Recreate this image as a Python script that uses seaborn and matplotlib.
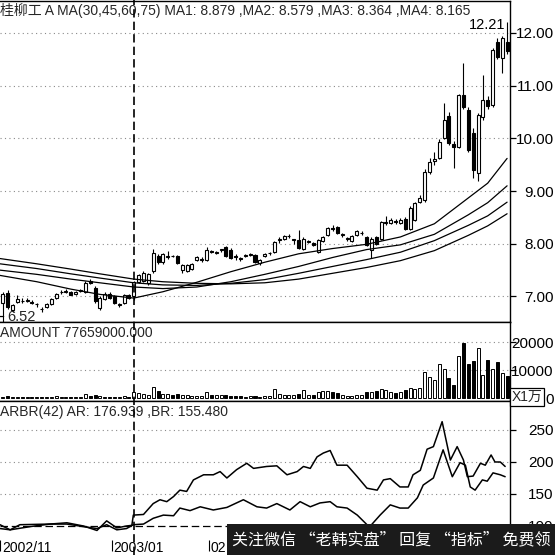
import numpy as np
import matplotlib
matplotlib.use("Agg")
import matplotlib.pyplot as plt
from matplotlib.lines import Line2D
from matplotlib.patches import Rectangle
import seaborn as sns

# ---------------- daily bars ----------------
open_ = [6.88, 7.06, 6.74, 6.90, 6.92, 6.92, 6.90, 6.85, 6.77, 6.80,
         6.86, 6.97, 7.08, 7.09, 7.08, 7.04, 7.11, 7.09, 7.30, 7.17,
         6.78, 6.96, 7.05, 7.00, 6.83, 6.88, 7.02, 7.00, 7.28, 7.30,
         7.25, 7.48, 7.76, 7.65, 7.74, 7.77, 7.77, 7.50, 7.48, 7.52,
         7.70, 7.70, 7.69, 7.86, 7.83, 7.88, 7.93, 7.88, 7.76, 7.72,
         7.76, 7.78, 7.79, 7.63, 7.77, 7.82, 7.84, 8.08, 8.10, 8.14,
         8.07, 8.07, 7.90, 8.04, 8.02, 7.85, 8.06, 8.17, 8.29, 8.32,
         8.17, 8.10, 8.05, 8.17, 8.20, 8.13, 7.88, 8.13, 8.10, 8.40,
         8.40, 8.43, 8.40, 8.47, 8.28, 8.45, 8.80, 8.83, 9.36, 9.58,
         9.63, 10.00, 10.43, 9.90, 9.84, 10.82, 10.54, 10.10, 9.34, 10.40,
         10.73, 10.64, 11.83, 11.53, 11.83]
high = [7.08, 7.12, 6.86, 7.02, 6.98, 6.97, 6.93, 6.88, 6.80, 6.87,
        6.98, 7.07, 7.12, 7.14, 7.10, 7.11, 7.15, 7.29, 7.33, 7.20,
        7.00, 7.08, 7.08, 7.03, 6.88, 7.05, 7.05, 7.30, 7.42, 7.48,
        7.44, 7.90, 7.80, 7.82, 7.86, 7.79, 7.78, 7.62, 7.62, 7.64,
        7.76, 7.74, 7.94, 7.88, 7.87, 7.90, 7.95, 7.92, 7.80, 7.75,
        7.80, 7.83, 7.80, 7.72, 7.83, 7.85, 8.06, 8.12, 8.16, 8.18,
        8.10, 8.26, 8.12, 8.08, 8.04, 8.09, 8.14, 8.32, 8.35, 8.34,
        8.20, 8.13, 8.17, 8.26, 8.24, 8.15, 8.12, 8.15, 8.44, 8.52,
        8.49, 8.47, 8.48, 8.50, 8.72, 8.80, 8.92, 9.42, 9.62, 9.75,
        9.98, 10.67, 10.50, 9.95, 10.85, 11.43, 10.60, 10.20, 10.48, 11.20,
        10.80, 11.72, 11.90, 11.95, 12.21]
low = [6.52, 6.76, 6.70, 6.88, 6.88, 6.89, 6.85, 6.80, 6.70, 6.78,
       6.84, 6.95, 7.05, 7.06, 7.02, 7.03, 7.08, 7.07, 7.24, 6.88,
       6.75, 6.93, 6.95, 6.86, 6.80, 6.86, 6.95, 6.93, 7.25, 7.28,
       7.22, 7.45, 7.62, 7.62, 7.72, 7.74, 7.62, 7.44, 7.46, 7.50,
       7.68, 7.66, 7.67, 7.82, 7.81, 7.85, 7.74, 7.72, 7.70, 7.68,
       7.74, 7.77, 7.64, 7.60, 7.75, 7.79, 7.82, 8.02, 8.08, 8.11,
       8.00, 7.90, 7.88, 8.01, 7.96, 7.83, 8.04, 8.15, 8.25, 8.18,
       8.13, 8.06, 8.03, 8.15, 8.16, 7.96, 7.73, 7.98, 8.08, 8.36,
       8.38, 8.38, 8.38, 8.26, 8.26, 8.43, 8.78, 8.80, 9.33, 9.50,
       9.60, 9.98, 9.88, 9.44, 9.82, 10.55, 9.75, 9.25, 9.20, 10.35,
       10.55, 10.60, 11.50, 11.25, 11.60]
close = [7.04, 6.80, 6.83, 6.95, 6.91, 6.92, 6.87, 6.86, 6.76, 6.85,
         6.96, 7.05, 7.09, 7.10, 7.03, 7.09, 7.12, 7.26, 7.26, 6.91,
         6.98, 7.05, 6.97, 6.88, 6.86, 7.03, 6.97, 7.27, 7.40, 7.45,
         7.42, 7.83, 7.65, 7.80, 7.76, 7.76, 7.64, 7.60, 7.60, 7.62,
         7.74, 7.71, 7.88, 7.85, 7.85, 7.88, 7.76, 7.73, 7.74, 7.71,
         7.79, 7.81, 7.65, 7.70, 7.81, 7.82, 8.03, 8.09, 8.14, 8.14,
         8.07, 7.92, 8.10, 8.04, 7.98, 8.07, 8.12, 8.30, 8.28, 8.20,
         8.17, 8.10, 8.15, 8.24, 8.20, 7.98, 8.10, 8.00, 8.41, 8.41,
         8.46, 8.42, 8.45, 8.28, 8.68, 8.77, 8.86, 9.36, 9.55, 9.60,
         9.93, 10.35, 9.91, 9.84, 10.82, 10.60, 9.78, 9.40, 10.44, 10.73,
         10.62, 11.68, 11.54, 11.90, 11.65]
# turnover, in units of 10,000 yuan
volume = [500, 600, 300, 250, 200, 250, 300, 250, 300, 350,
          400, 600, 350, 400, 350, 300, 400, 1300, 600, 900,
          700, 500, 400, 450, 350, 600, 500, 2000, 1700, 1500,
          1200, 3800, 2400, 1600, 1300, 1100, 1500, 1000, 900, 800,
          700, 600, 2000, 1200, 1000, 900, 1100, 800, 700, 600,
          500, 600, 700, 500, 600, 700, 3200, 1500, 1200, 1000,
          900, 1300, 2800, 1200, 1000, 2200, 2400, 2600, 2000, 1800,
          900, 700, 800, 1000, 900, 2200, 2000, 2600, 3200, 2800,
          2300, 1800, 2000, 2800, 3400, 3200, 3500, 9300, 7600, 6500,
          12300, 10300, 7000, 4800, 15000, 19600, 12000, 13200, 18000, 8200,
          13500, 10500, 13000, 9000, 7766]

# ---------------- moving averages (30/45/60/75 days) ----------------
ma_idx = [-0.6, 7, 14, 20, 27, 33, 40, 47, 54, 61, 68, 75, 82, 89, 96, 100, 104]
ma30 = [7.40, 7.28, 7.14, 7.04, 6.97, 7.09, 7.27, 7.47, 7.65, 7.81, 7.91, 7.99, 8.13, 8.38, 8.87, 9.15, 9.62]
ma45 = [7.50, 7.42, 7.33, 7.26, 7.18, 7.15, 7.18, 7.28, 7.42, 7.57, 7.74, 7.89, 7.98, 8.18, 8.55, 8.78, 9.10]
ma60 = [7.62, 7.53, 7.43, 7.35, 7.26, 7.22, 7.21, 7.25, 7.32, 7.44, 7.57, 7.70, 7.84, 8.06, 8.35, 8.53, 8.79]
ma75 = [7.72, 7.62, 7.52, 7.43, 7.33, 7.28, 7.25, 7.24, 7.26, 7.33, 7.44, 7.55, 7.68, 7.87, 8.16, 8.34, 8.57]

# ---------------- ARBR(42) ----------------
ar_idx = [-0.6, 1.5, 3.5, 9.7, 13.2, 16.6, 19.4, 21.4, 23.5, 25.5, 26.6, 26.9, 29.0, 31.0,
          32.4, 33.8, 35.2, 36.5, 37.9, 39.3, 41.4, 43.4, 44.8, 46.2, 48.2, 50.3, 51.7,
          54.4, 56.5, 58.6, 60.7, 62.0, 63.4, 64.8, 66.1, 67.5, 68.9, 71.0, 73.1, 75.1,
          77.2, 78.5, 79.9, 81.9, 83.6, 84.6, 86.1, 87.5, 88.8, 90.6, 92.3, 93.7, 95.0,
          95.8, 97.0, 98.5, 99.5, 100.7, 101.5, 102.6, 103.6]
ar_val = [102, 94, 102, 103, 105, 100, 93, 108, 97, 100, 101, 117, 118, 135,
          141, 138, 146, 156, 154, 172, 180, 180, 185, 175, 188, 198, 190,
          193, 194, 180, 185, 193, 190, 208, 214, 218, 195, 195, 177, 159,
          156, 172, 174, 161, 161, 180, 187, 220, 224, 263, 203, 224, 203,
          177, 178, 198, 195, 211, 200, 200, 193]
br_idx = [-0.6, 1.5, 5.6, 9.7, 13.2, 16.6, 19.4, 21.4, 23.5, 25.5, 26.9, 29.0, 31.0,
          33.1, 35.2, 36.5, 38.6, 40.7, 43.4, 46.2, 49.6, 52.4, 54.4, 56.5, 59.2,
          61.3, 63.4, 65.4, 67.5, 68.9, 71.0, 73.1, 75.1, 75.8, 77.8, 79.9, 81.9,
          83.6, 85.5, 86.7, 88.8, 90.8, 92.7, 94.3, 95.4, 96.4, 97.4, 98.9, 99.9,
          101.1, 102.6, 103.6]
br_val = [96, 94, 99, 103, 103, 99, 96, 102, 94, 96, 102, 103, 112,
          117, 116, 128, 124, 130, 125, 129, 141, 130, 128, 135, 125,
          138, 130, 136, 138, 130, 128, 117, 102, 100, 117, 133, 128,
          128, 144, 164, 175, 219, 177, 199, 195, 161, 156, 172, 170,
          183, 180, 177]

price_ticks = [7, 8, 9, 10, 11, 12]
vol_ticks = [0, 10000, 20000]
arbr_ticks = [100, 150, 200, 250]
date_idx = [0, 23, 43]
date_labels = ["2002/11", "2003/01", "02"]
cursor_idx = 27

title_main = "桂柳工 A MA(30,45,60,75) MA1: 8.879 ,MA2: 8.579 ,MA3: 8.364 ,MA4: 8.165"
title_vol = "AMOUNT 77659000.000"
title_arbr = "ARBR(42) AR: 176.939 ,BR: 155.480"
promo = "关注微信 “老韩实盘” 回复 “指标” 免费领"

# ---------------- figure ----------------
sns.set_style("white")
plt.rcParams["font.family"] = ["Liberation Sans", "Noto Sans CJK SC", "DejaVu Sans"]
plt.rcParams["axes.unicode_minus"] = False

W = H = 555
fig = plt.figure(figsize=(W / 100, H / 100), dpi=100)


def box(x0, y0, x1, y1):
    return [x0 / W, 1 - y1 / H, (x1 - x0) / W, (y1 - y0) / H]


ax_p = fig.add_axes(box(0, 1, 510, 322))
ax_v = fig.add_axes(box(0, 322, 510, 401))
ax_a = fig.add_axes(box(0, 401, 510, 540))

o = np.array(open_); h = np.array(high); l = np.array(low); c = np.array(close)
idx = np.arange(len(c))
rising = c >= o
face = np.where(rising, "white", "black")

# candlesticks
ax_p.vlines(idx, l, h, color="black", lw=0.8, zorder=2)
body_lo = np.minimum(o, c)
body_h = np.maximum(np.abs(c - o), 0.012)
ax_p.bar(idx, body_h, bottom=body_lo, width=0.62, color=face,
         edgecolor="black", linewidth=0.8, zorder=3)

for ma in (ma30, ma45, ma60, ma75):
    sns.lineplot(x=ma_idx, y=ma, ax=ax_p, color="black", lw=0.9, zorder=4)

# extreme-price labels
ax_p.text(idx[-1] - 0.45, h[-1] - 0.06, f"{h.max():.2f}", ha="right", va="center",
          fontsize=10.5, color="black", zorder=5)
imin = int(np.argmin(l))
ax_p.annotate(f"{l.min():.2f}", xy=(imin - 0.6, l[imin] + 0.1), xytext=(5, 0),
              textcoords="offset points", ha="left", va="center", fontsize=10.5,
              arrowprops=dict(arrowstyle="-", lw=0.9, color="black", shrinkA=0, shrinkB=0))

# volume
ax_v.bar(idx, volume, width=0.62, color=face, edgecolor="black", linewidth=0.7, zorder=3)

# ARBR
sns.lineplot(x=ar_idx, y=ar_val, ax=ax_a, color="black", lw=1.1, zorder=4)
sns.lineplot(x=br_idx, y=br_val, ax=ax_a, color="black", lw=1.1, zorder=4)
ax_a.axhline(100, color="black", lw=0.9, ls=(0, (6, 3)), zorder=2)

# axes styling
grid_kw = dict(color="#8a8a8a", lw=0.8, ls=(0, (1, 3)), zorder=1)
limits = {ax_p: (6.516, 12.607), ax_v: (-1071, 27143), ax_a: (78.1, 295.3)}
ticks = {ax_p: (price_ticks, [f"{t:.2f}" for t in price_ticks]),
         ax_v: (vol_ticks, [str(t) for t in vol_ticks]),
         ax_a: (arbr_ticks, [str(t) for t in arbr_ticks])}
for ax in (ax_p, ax_v, ax_a):
    ax.set_xlim(-0.6, 104.6)
    ax.set_ylim(*limits[ax])
    ax.set_facecolor("white")
    ax.set_xlabel(""); ax.set_ylabel("")
    ax.yaxis.tick_right()
    tv, tl = ticks[ax]
    ax.set_yticks(tv)
    ax.set_yticklabels(tl, ha="right")
    ax.tick_params(axis="y", direction="out", length=4, width=0.9, pad=27.5,
                   labelsize=11, colors="black")
    ax.tick_params(axis="x", bottom=False, labelbottom=False)
    for t in tv:
        if not (ax is ax_a and t == 100) and t != 0:
            ax.axhline(t, **grid_kw)
    ax.spines["left"].set_visible(False)
    for s in ("top", "right", "bottom"):
        ax.spines[s].set_color("black")
        ax.spines[s].set_linewidth(1.0)
ax_a.spines["bottom"].set_visible(False)

# date axis under the indicator panel
ax_a.set_xticks([d - 0.5 for d in date_idx])
ax_a.tick_params(axis="x", bottom=True, direction="out", length=8, width=0.8,
                 labelbottom=False, colors="black")
for d, lab in zip(date_idx, date_labels):
    ax_a.text(d - 0.2, -0.058, lab, transform=ax_a.get_xaxis_transform(),
              ha="left", va="center", fontsize=10, color="black")

# panel captions
fig.text(0.5 / W, 1 - 10 / H, title_main, ha="left", va="center", fontsize=10)
fig.text(0.5 / W, 1 - 333 / H, title_vol, ha="left", va="center", fontsize=10)
fig.text(0.5 / W, 1 - 412 / H, title_arbr, ha="left", va="center", fontsize=10)
fig.text(512 / W, 1 - 397 / H, "X1万", ha="left", va="center", fontsize=10,
         bbox=dict(boxstyle="square,pad=0.12", fc="white", ec="black", lw=0.9))

# cursor line across all panels
x_disp = ax_p.transData.transform((cursor_idx, 0))[0]
xf = fig.transFigure.inverted().transform((x_disp, 0))[0]
fig.add_artist(Line2D([xf, xf], [0, 1], transform=fig.transFigure, color="black",
                      lw=1.2, ls=(0, (5, 2.5)), zorder=6))

# promo strip
fig.add_artist(Rectangle((227 / W, 0), (W - 227) / W, 31 / H, transform=fig.transFigure,
                         facecolor="#1b1b1b", edgecolor="none", zorder=10))
fig.text(232 / W, 15 / H, promo, ha="left", va="center", fontsize=11.5, color="white",
         family=["Noto Sans CJK SC", "DejaVu Sans"], zorder=11)

fig.savefig("out.png", dpi=100, facecolor="white")
